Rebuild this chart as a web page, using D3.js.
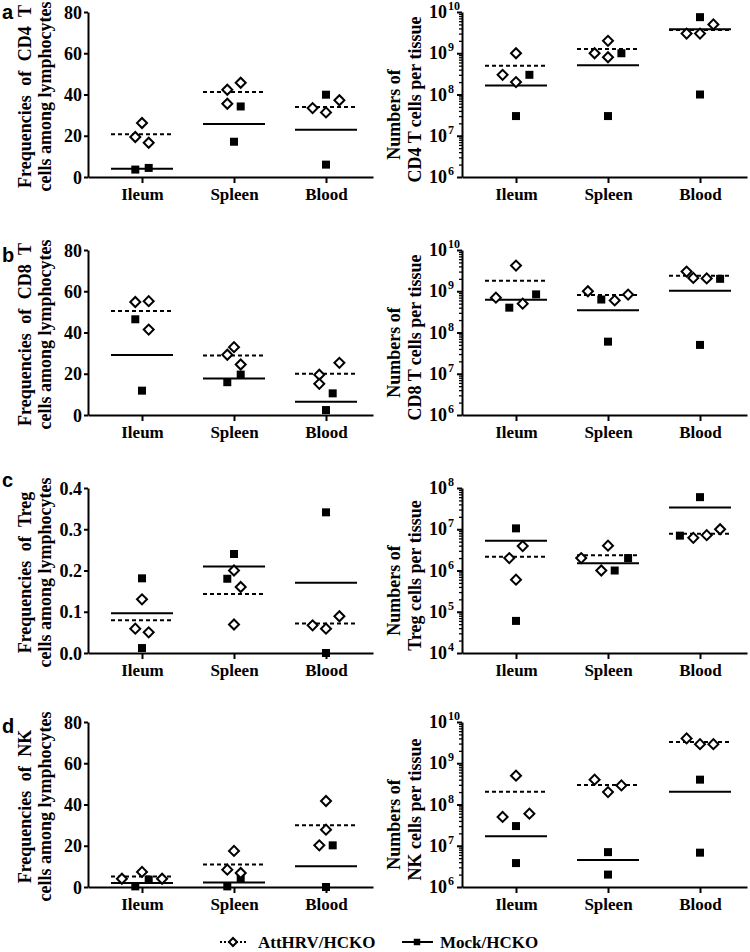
<!DOCTYPE html>
<html><head><meta charset="utf-8">
<script src="https://cdn.jsdelivr.net/npm/d3@7"></script>
<style>body{margin:0;background:#fff} svg{display:block}</style>
</head><body>
<svg id="chart" width="750" height="952"></svg>
<script>
const categories = ["Ileum", "Spleen", "Blood"];
const seriesNames = ["AttHRV/HCKO", "Mock/HCKO"];
const panelLetters = ["a", "b", "c", "d"];

// Tick values
const freqTicks = [0, 20, 40, 60, 80];
const tregFreqTicks = [0, 0.1, 0.2, 0.3, 0.4];
const countExponents = [6, 7, 8, 9, 10];
const tregCountExponents = [4, 5, 6, 7, 8];

// a: CD4 T cells — frequencies (%)
const cd4FreqAtt  = [[19.4, 26.2, 16.6], [42.3, 45.7, 35.5], [33.4, 31.3, 37.2]];
const cd4FreqMock = [[3.6, 4.4], [34.2, 17.1], [39.9, 6.0]];
const cd4FreqAttSpread  = [[-1, 0, 1], [-1, 1, -1], [-2, 0, 2]];
const cd4FreqMockSpread = [[-1, 1], [1, 0], [0, 0]];
// a: CD4 T cells — numbers per tissue
const cd4NumAtt  = [[1e9, 3e8, 2e8], [1e9, 2e9, 8e8], [3e9, 3e9, 5e9]];
const cd4NumMock = [[3e8, 3e7], [1e9, 3e7], [7.5e9, 1e8]];
const cd4NumAttSpread  = [[0, -2, 0], [-2, 0, 0], [-2, 0, 2]];
const cd4NumMockSpread = [[2, 0], [2, 0], [0, 0]];

// b: CD8 T cells — frequencies
const cd8FreqAtt  = [[54.8, 55.2, 41.4], [29.2, 32.9, 24.5], [19.5, 15.1, 25.3]];
const cd8FreqMock = [[46.4, 11.8], [15.9, 19.6], [10.5, 2.4]];
const cd8FreqAttSpread  = [[-1, 1, 1], [-1, 0, 1], [-1, -1, 2]];
const cd8FreqMockSpread = [[-1, 0], [-1, 1], [1, 0]];
// b: CD8 T cells — numbers
const cd8NumAtt  = [[4.2e9, 7e8, 5e8], [1e9, 6e8, 8.3e8], [3e9, 2.1e9, 2.05e9]];
const cd8NumMock = [[4e8, 8.4e8], [6.3e8, 6e7], [2e9, 5e7]];
const cd8NumAttSpread  = [[0, -3, 1], [-3, 1, 3], [-2, -1, 1]];
const cd8NumMockSpread = [[-1, 3], [-1, 0], [3, 0]];

// c: Treg — frequencies
const tregFreqAtt  = [[0.13, 0.059, 0.05], [0.20, 0.16, 0.069], [0.067, 0.059, 0.089]];
const tregFreqMock = [[0.181, 0.012], [0.24, 0.18], [0.341, 0.0]];
const tregFreqAttSpread  = [[0, -1, 1], [0, 1, 0], [-2, 0, 2]];
const tregFreqMockSpread = [[0, 0], [0, -1], [0, 0]];
// c: Treg — numbers
const tregNumAtt  = [[3.9e6, 2e6, 6e5], [2e6, 4e6, 1e6], [6.2e6, 7.2e6, 1e7]];
const tregNumMock = [[1.05e7, 6e4], [1e6, 2e6], [6e7, 7e6]];
const tregNumAttSpread  = [[1, -1, 0], [-4, 0, -1], [-1, 1, 3]];
const tregNumMockSpread = [[0, 0], [1, 3], [0, -3]];

// d: NK — frequencies
const nkFreqAtt  = [[4.0, 7.3, 4.0], [17.5, 8.4, 6.8], [41.7, 27.8, 20.2]];
const nkFreqMock = [[0.3, 3.6], [4.0, 0.3], [20.2, 0.0]];
const nkFreqAttSpread  = [[-3, 0, 3], [0, -1, 1], [0, 0, -1]];
const nkFreqMockSpread = [[-1, 1], [1, -1], [1, 0]];
// d: NK — numbers
const nkNumAtt  = [[5e8, 5e7, 6e7], [4e8, 2e8, 2.9e8], [4e9, 2.9e9, 2.9e9]];
const nkNumMock = [[3e7, 3.8e6], [7e6, 2e6], [4e8, 6.8e6]];
const nkNumAttSpread  = [[0, -2, 2], [-2, 0, 2], [-2, 0, 2]];
const nkNumMockSpread = [[0, 0], [0, 0], [0, 0]];

const panels = [
  {row:0, col:0, log:false, ticks:freqTicks, att:cd4FreqAtt, mock:cd4FreqMock, attS:cd4FreqAttSpread, mockS:cd4FreqMockSpread, title:["Frequencies of CD4 T", "cells among lymphocytes"]},
  {row:0, col:1, log:true, exps:countExponents, att:cd4NumAtt, mock:cd4NumMock, attS:cd4NumAttSpread, mockS:cd4NumMockSpread, title:["Numbers of", "CD4 T cells per tissue"]},
  {row:1, col:0, log:false, ticks:freqTicks, att:cd8FreqAtt, mock:cd8FreqMock, attS:cd8FreqAttSpread, mockS:cd8FreqMockSpread, title:["Frequencies of CD8 T", "cells among lymphocytes"]},
  {row:1, col:1, log:true, exps:countExponents, att:cd8NumAtt, mock:cd8NumMock, attS:cd8NumAttSpread, mockS:cd8NumMockSpread, title:["Numbers of", "CD8 T cells per tissue"]},
  {row:2, col:0, log:false, ticks:tregFreqTicks, fmt:".1f", att:tregFreqAtt, mock:tregFreqMock, attS:tregFreqAttSpread, mockS:tregFreqMockSpread, title:["Frequencies of Treg", "cells among lymphocytes"]},
  {row:2, col:1, log:true, exps:tregCountExponents, att:tregNumAtt, mock:tregNumMock, attS:tregNumAttSpread, mockS:tregNumMockSpread, title:["Numbers of", "Treg cells per tissue"]},
  {row:3, col:0, log:false, ticks:freqTicks, att:nkFreqAtt, mock:nkFreqMock, attS:nkFreqAttSpread, mockS:nkFreqMockSpread, title:["Frequencies of NK", "cells among lymphocytes"]},
  {row:3, col:1, log:true, exps:countExponents, att:nkNumAtt, mock:nkNumMock, attS:nkNumAttSpread, mockS:nkNumMockSpread, title:["Numbers of", "NK cells per tissue"]}
];

// Layout
const serif = "'Liberation Serif','Times New Roman',serif";
const sans = "'Liberation Sans',Arial,sans-serif";
const rowTop = [12, 250, 488, 722];
const plotH = 165;
const colAxisX = [88, 462];
const axisLen = 285;
const letterY = [19, 262, 487, 733];
const meanHalf = 31;

const svg = d3.select("#chart");

panelLetters.forEach((l, i) => {
  svg.append("text").attr("x", 2).attr("y", letterY[i])
    .attr("font-family", sans).attr("font-weight", "bold").attr("font-size", 20)
    .text(l);
});

const diamond = d3.symbol(d3.symbolSquare, 50)();
const square = d3.symbol(d3.symbolSquare, 64)();

panels.forEach(p => {
  const x0 = colAxisX[p.col];
  const top = rowTop[p.row], bottom = top + plotH;
  const g = svg.append("g");
  const x = d3.scalePoint().domain(categories).range([x0 + 54, x0 + 238]);
  const spread = d3.scaleLinear().domain([-1, 1]).range([-6.7, 6.7]);
  let y;
  if (p.log) {
    y = d3.scaleLog().domain([Math.pow(10, p.exps[0]), Math.pow(10, p.exps[p.exps.length - 1])]).range([bottom, top]);
  } else {
    y = d3.scaleLinear().domain([p.ticks[0], p.ticks[p.ticks.length - 1]]).range([bottom, top]);
  }

  // x axis
  const xa = g.append("g").attr("transform", `translate(0,${bottom})`)
    .call(d3.axisBottom(d3.scaleLinear().domain([0, 1]).range([x0, x0 + axisLen])).tickValues([]).tickSizeOuter(0));
  const xt = g.append("g").attr("transform", `translate(0,${bottom})`)
    .call(d3.axisBottom(x).tickSize(6).tickSizeOuter(0).tickPadding(4));
  xt.select(".domain").remove();
  [xa, xt].forEach(s => {
    s.selectAll("path,line").attr("stroke", "#000").attr("stroke-width", 2);
  });
  xt.selectAll("text").attr("font-family", serif).attr("font-weight", "bold")
    .attr("font-size", 17).attr("fill", "#000").attr("dy", "0.76em");

  // y axis
  if (p.log) {
    const minor = [];
    for (let e = p.exps[0]; e < p.exps[p.exps.length - 1]; e++)
      for (let k = 2; k <= 9; k++) minor.push(k * Math.pow(10, e));
    const ym = g.append("g").attr("transform", `translate(${x0},0)`)
      .call(d3.axisLeft(y).tickValues(minor).tickSize(3).tickFormat("").tickSizeOuter(0));
    ym.selectAll("line").attr("stroke", "#000").attr("stroke-width", 1.3);
    ym.select(".domain").remove();
    const ya = g.append("g").attr("transform", `translate(${x0},0)`)
      .call(d3.axisLeft(y).tickValues(p.exps.map(e => Math.pow(10, e))).tickSize(5).tickFormat("").tickSizeOuter(0));
    ya.selectAll("path,line").attr("stroke", "#000").attr("stroke-width", 2);
    p.exps.forEach(e => {
      const ty = y(Math.pow(10, e));
      g.append("text").attr("x", x0 - 15).attr("y", ty + 6).attr("text-anchor", "end")
        .attr("font-family", serif).attr("font-weight", "bold").attr("font-size", 18).text("10");
      g.append("text").attr("x", x0 - 14).attr("y", ty - 2).attr("text-anchor", "start")
        .attr("font-family", serif).attr("font-weight", "bold").attr("font-size", 12).text(e);
    });
  } else {
    const fmt = p.fmt ? d3.format(p.fmt) : d3.format("d");
    const ya = g.append("g").attr("transform", `translate(${x0},0)`)
      .call(d3.axisLeft(y).tickValues(p.ticks).tickSize(4).tickPadding(2).tickFormat(fmt).tickSizeOuter(0));
    ya.selectAll("path,line").attr("stroke", "#000").attr("stroke-width", 2);
    ya.selectAll("text").attr("font-family", serif).attr("font-weight", "bold")
      .attr("font-size", 18).attr("fill", "#000").attr("dy", "0.34em");
  }

  // y title
  const cy = (top + bottom) / 2;
  const tOff = p.col === 0 ? [[-57, 2], [-37, 2]] : [[-62, 20], [-41, 5]];
  p.title.forEach((t, i) => {
    g.append("text")
      .attr("transform", `translate(${x0 + tOff[i][0]},${cy + tOff[i][1]}) rotate(-90)`)
      .attr("text-anchor", "middle").attr("font-family", serif).attr("font-weight", "bold")
      .attr("font-size", 18).attr("word-spacing", p.col === 0 && i === 0 ? 5 : 0).text(t);
  });

  // mean lines
  categories.forEach((c, i) => {
    const ma = d3.mean(p.att[i]);
    g.append("line").attr("x1", x(c) - meanHalf).attr("x2", x(c) + meanHalf)
      .attr("y1", y(ma)).attr("y2", y(ma)).attr("stroke", "#000").attr("stroke-width", 2)
      .attr("stroke-dasharray", "4,3");
    const mm = d3.mean(p.mock[i]);
    g.append("line").attr("x1", x(c) - meanHalf).attr("x2", x(c) + meanHalf)
      .attr("y1", y(mm)).attr("y2", y(mm)).attr("stroke", "#000").attr("stroke-width", 2);
  });

  // points
  categories.forEach((c, i) => {
    p.mock[i].forEach((v, j) => {
      g.append("path").attr("d", square)
        .attr("transform", `translate(${x(c) + spread(p.mockS[i][j])},${y(Math.max(v, y.domain()[0]))})`)
        .attr("fill", "#000");
    });
    p.att[i].forEach((v, j) => {
      g.append("path").attr("d", diamond)
        .attr("transform", `translate(${x(c) + spread(p.attS[i][j])},${y(v)}) rotate(45)`)
        .attr("fill", "#fff").attr("stroke", "#000").attr("stroke-width", 2);
    });
  });
});

// legend
const lg = svg.append("g");
const ly = 942;
lg.append("line").attr("x1", 220).attr("x2", 247).attr("y1", ly).attr("y2", ly)
  .attr("stroke", "#000").attr("stroke-width", 2).attr("stroke-dasharray", "2,2");
lg.append("path").attr("d", d3.symbol(d3.symbolSquare, 32)()).attr("transform", `translate(233,${ly}) rotate(45)`)
  .attr("fill", "#fff").attr("stroke", "#000").attr("stroke-width", 2);
lg.append("text").attr("x", 258).attr("y", ly + 6).attr("font-family", serif).attr("font-weight", "bold")
  .attr("font-size", 17).text(seriesNames[0]);
lg.append("line").attr("x1", 402).attr("x2", 433).attr("y1", ly).attr("y2", ly)
  .attr("stroke", "#000").attr("stroke-width", 2);
lg.append("path").attr("d", d3.symbol(d3.symbolSquare, 42)()).attr("transform", `translate(417,${ly})`)
  .attr("fill", "#000");
lg.append("text").attr("x", 440).attr("y", ly + 6).attr("font-family", serif).attr("font-weight", "bold")
  .attr("font-size", 17).text(seriesNames[1]);
</script>
</body></html>
